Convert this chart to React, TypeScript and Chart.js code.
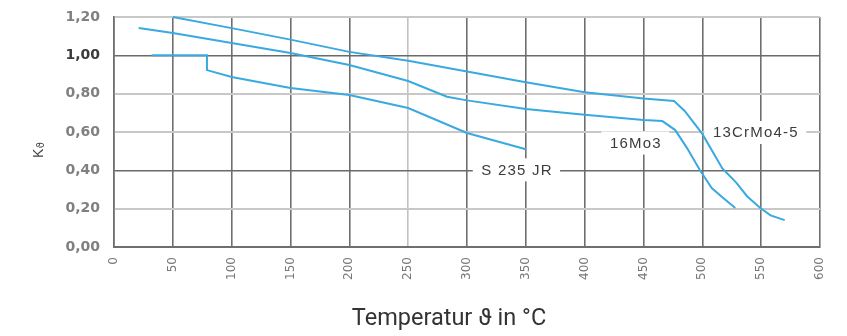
import React, { useEffect, useRef } from 'react';
import { Chart, registerables } from 'chart.js';

Chart.register(...registerables);

// Axis ticks
const xTickValues = [0, 50, 100, 150, 200, 250, 300, 350, 400, 450, 500, 550, 600];
const yTickValues = [0, 0.2, 0.4, 0.6, 0.8, 1.0, 1.2];

// Series: 13CrMo4-5
const crMoTemp = [50, 100, 150, 200, 250, 300, 350, 400, 450, 476, 485, 500, 517, 529, 538, 549, 558, 570];
const crMoK = [1.2, 1.142, 1.082, 1.018, 0.972, 0.916, 0.86, 0.807, 0.775, 0.762, 0.71, 0.59, 0.41, 0.335, 0.265, 0.205, 0.165, 0.14];

// Series: 16Mo3
const moTemp = [21, 50, 100, 150, 200, 250, 283, 300, 350, 400, 450, 466, 477, 487, 498, 508, 517, 528];
const moK = [1.143, 1.117, 1.064, 1.012, 0.95, 0.866, 0.784, 0.765, 0.72, 0.69, 0.663, 0.657, 0.61, 0.516, 0.4, 0.308, 0.26, 0.203];

// Series: S 235 JR
const sTemp = [32, 79, 79, 100, 150, 200, 250, 300, 350];
const sK = [1.0, 1.0, 0.923, 0.887, 0.83, 0.793, 0.725, 0.595, 0.51];

// Curve labels (text, position in data units)
const labelTexts = ['S 235 JR', '16Mo3', '13CrMo4-5'];
const labelTemp = [342, 443, 545];
const labelK = [0.405, 0.545, 0.6];

const xTitle = 'Temperatur ϑ in °C';
const yTitleMain = 'K';
const yTitleSub = 'ϑ';

const lightXGrid = [250];
const darkYGrid = [0, 0.4, 1.0];

const LINE_COLOR = '#3aa9e0';

function pts(xs: number[], ys: number[]) {
  return xs.map((x, i) => ({ x, y: ys[i] }));
}

const labelPlugin = {
  id: 'curveLabels',
  beforeDatasetsDraw(chart: any) {
    const { ctx, scales } = chart;
    const xs = scales.x;
    const ys = scales.y;
    ctx.save();
    ctx.font = '15px "Liberation Sans", Arial, sans-serif';
    (ctx as any).letterSpacing = '1.2px';
    ctx.textAlign = 'center';
    ctx.textBaseline = 'middle';
    labelTexts.forEach((t, i) => {
      const px = xs.getPixelForValue(labelTemp[i]);
      const py = ys.getPixelForValue(labelK[i]);
      const w = ctx.measureText(t).width + 16;
      ctx.fillStyle = '#ffffff';
      ctx.fillRect(px - w / 2, py - 11, w, 23);
      ctx.fillStyle = '#3c3c3c';
      ctx.fillText(t, px + 0.6, py + 1);
    });
    ctx.restore();
  },
  afterDraw(chart: any) {
    const { ctx } = chart;
    ctx.save();
    // x title
    ctx.font = '23.5px Roboto, "Liberation Sans", sans-serif';
    ctx.fillStyle = '#333333';
    ctx.textAlign = 'center';
    ctx.textBaseline = 'middle';
    ctx.fillText(xTitle, 449, 319);
    // y title rotated
    ctx.translate(43, 158);
    ctx.rotate(-Math.PI / 2);
    ctx.textAlign = 'left';
    ctx.textBaseline = 'alphabetic';
    ctx.fillStyle = '#444444';
    ctx.font = '14px "Liberation Sans", Arial, sans-serif';
    ctx.fillText(yTitleMain, 0, 0);
    const kw = ctx.measureText(yTitleMain).width;
    ctx.font = '10px "DejaVu Sans", sans-serif';
    ctx.fillText(yTitleSub, kw + 0.5, 1);
    ctx.restore();
  },
};

export default function App() {
  const ref = useRef<HTMLCanvasElement | null>(null);

  useEffect(() => {
    document.body.style.margin = '0';
    const canvas = ref.current;
    if (!canvas) return;
    const ds = (data: { x: number; y: number }[]) => ({
      data,
      borderColor: LINE_COLOR,
      backgroundColor: LINE_COLOR,
      borderWidth: 2,
      pointRadius: 0,
      tension: 0,
      fill: false,
      clip: false as any,
    });
    const chart = new Chart(canvas, {
      type: 'line',
      data: {
        datasets: [
          { label: '13CrMo4-5', ...ds(pts(crMoTemp, crMoK)) },
          { label: '16Mo3', ...ds(pts(moTemp, moK)) },
          { label: 'S 235 JR', ...ds(pts(sTemp, sK)) },
        ],
      },
      options: {
        animation: false,
        responsive: true,
        maintainAspectRatio: false,
        layout: { padding: { left: 0, right: 27, top: 17, bottom: 0 } },
        plugins: {
          legend: { display: false },
          tooltip: { enabled: false },
        },
        scales: {
          x: {
            type: 'linear',
            min: 0,
            max: 600,
            afterBuildTicks: (s: any) => {
              s.ticks = xTickValues.map((v) => ({ value: v }));
            },
            afterFit: (s: any) => {
              s.height = 89;
              s.paddingLeft = 0;
              s.paddingRight = 0;
            },
            grid: {
              drawTicks: false,
              color: (c: any) =>
                c.tick && lightXGrid.includes(c.tick.value) ? '#c2c2c2' : '#6f6f6f',
              lineWidth: 1.6,
            },
            border: { display: true, color: '#6f6f6f', width: 2 },
            ticks: {
              autoSkip: false,
              minRotation: 90,
              maxRotation: 90,
              padding: 10,
              color: '#777777',
              font: { family: '"DejaVu Sans", sans-serif', size: 12 },
              callback: (v: any) => String(v),
            },
          },
          y: {
            type: 'linear',
            min: 0,
            max: 1.2,
            afterBuildTicks: (s: any) => {
              s.ticks = yTickValues.map((v) => ({ value: v }));
            },
            afterFit: (s: any) => {
              s.width = 114;
              s.paddingTop = 0;
              s.paddingBottom = 0;
            },
            grid: {
              drawTicks: false,
              color: (c: any) =>
                c.tick && darkYGrid.some((d) => Math.abs(d - c.tick.value) < 1e-6)
                  ? '#6a6a6a'
                  : '#c8c8c8',
              lineWidth: (c: any) =>
                c.tick && darkYGrid.some((d) => Math.abs(d - c.tick.value) < 1e-6) ? 1.6 : 2,
            },
            border: { display: true, color: '#6f6f6f', width: 1.6 },
            ticks: {
              padding: 14,
              color: (c: any) =>
                c.tick && Math.abs(c.tick.value - 1) < 1e-6 ? '#3a3a3a' : '#808080',
              font: { family: '"DejaVu Sans", sans-serif', size: 14, weight: 'bold' },
              callback: (v: any) => Number(v).toFixed(2).replace('.', ','),
            },
          },
        },
      },
      plugins: [labelPlugin],
    });
    return () => chart.destroy();
  }, []);

  return (
    <div style={{ position: 'absolute', left: 0, top: 0, width: 847, height: 336 }}>
      <canvas ref={ref} />
    </div>
  );
}
